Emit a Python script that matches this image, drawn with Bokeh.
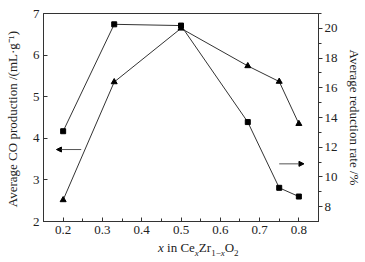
from bokeh.plotting import figure
from bokeh.layouts import column
from bokeh.models import Range1d, LinearAxis, FixedTicker, Arrow, NormalHead, Div
from bokeh.embed import file_html
from bokeh.resources import INLINE

# Data
x_vals = [0.2, 0.33, 0.5, 0.67, 0.75, 0.8]
co_production = [4.17, 6.74, 6.71, 4.39, 2.81, 2.60]       # left axis (squares)
reduction_rate = [8.45, 16.39, 20.0, 17.47, 16.42, 13.58]  # right axis (triangles)

x_ticks = [0.2, 0.3, 0.4, 0.5, 0.6, 0.7, 0.8]
x_minor = [0.15, 0.25, 0.35, 0.45, 0.55, 0.65, 0.75, 0.85]
left_ticks = [2, 3, 4, 5, 6, 7]
right_ticks = [8, 10, 12, 14, 16, 18, 20]
right_minor = [9, 11, 13, 15, 17, 19, 21]

FONT = "Liberation Serif"
LC = "#333333"

p = figure(frame_width=275, frame_height=208,
           x_range=Range1d(0.15, 0.85), y_range=Range1d(2, 7),
           output_backend="svg", toolbar_location=None,
           min_border_left=43, min_border_right=40,
           min_border_top=13, min_border_bottom=20)
p.extra_y_ranges = {"right": Range1d(7, 21)}
p.xgrid.visible = False
p.ygrid.visible = False
p.outline_line_color = LC
p.outline_line_width = 1

# Left axis
ya = p.yaxis[0]
ya.ticker = FixedTicker(ticks=left_ticks, minor_ticks=[])
ya.axis_label = "Average  CO production /(mL\u00b7g\u207b\u00b9)"
# Bottom axis
xa = p.xaxis[0]
xa.ticker = FixedTicker(ticks=x_ticks, minor_ticks=x_minor)
xa.axis_label = None

ra = LinearAxis(y_range_name="right",
                ticker=FixedTicker(ticks=right_ticks, minor_ticks=right_minor),
                axis_label="Average reduction rate /%")
p.add_layout(ra, "right")

for ax in (ya, xa, ra):
    ax.axis_line_color = LC
    ax.major_tick_line_color = LC
    ax.minor_tick_line_color = LC
    ax.major_label_text_font = FONT
    ax.major_label_text_font_size = "13px"
    ax.major_label_text_color = "#222222"
    ax.axis_label_text_font = FONT
    ax.axis_label_text_font_size = "13px"
    ax.axis_label_text_font_style = "normal"
    ax.axis_label_text_color = "#222222"

for ax in (ya, xa):
    ax.major_tick_in = 4
    ax.major_tick_out = 0
    ax.minor_tick_in = 3
    ax.minor_tick_out = 0
    ax.major_label_standoff = 4
ra.major_tick_in = 0
ra.major_tick_out = 4
ra.minor_tick_in = 0
ra.minor_tick_out = 3
ra.major_label_standoff = 2
ya.axis_label_standoff = 10
ra.axis_label_standoff = 6
ra.axis_label_orientation = "vertical"

# Series
p.line(x_vals, co_production, line_color=LC, line_width=1)
p.scatter(x_vals, co_production, marker="square", size=5,
          fill_color="black", line_color="black")
p.line(x_vals, reduction_rate, line_color=LC, line_width=1, y_range_name="right")
p.scatter(x_vals, reduction_rate, marker="triangle", size=6,
          fill_color="black", line_color="black", y_range_name="right")

# Arrows
p.add_layout(Arrow(x_start=0.246, y_start=3.73, x_end=0.183, y_end=3.73,
                   line_color="#555555", line_width=1,
                   end=NormalHead(size=5, fill_color="black", line_color="black")))
p.add_layout(Arrow(x_start=0.750, y_start=10.88, x_end=0.813, y_end=10.88,
                   y_range_name="right", line_color="#555555", line_width=1,
                   end=NormalHead(size=5, fill_color="black", line_color="black")))

# X axis label (italic x and subscripts)
SUB = '<sub style="font-size:9px">'
xlabel = Div(text=f"<i>x</i> in Ce{SUB}<i>x</i></sub>Zr{SUB}1\u2212<i>x</i></sub>O{SUB}2</sub>",
             width=110, height=18, margin=(0, 0, 0, 158),
             styles={"font-family": FONT, "font-size": "13px", "color": "#222222",
                     "line-height": "14px", "white-space": "nowrap"})

layout = column(p, xlabel, spacing=0)
open("out.html", "w").write(file_html(layout, INLINE))
